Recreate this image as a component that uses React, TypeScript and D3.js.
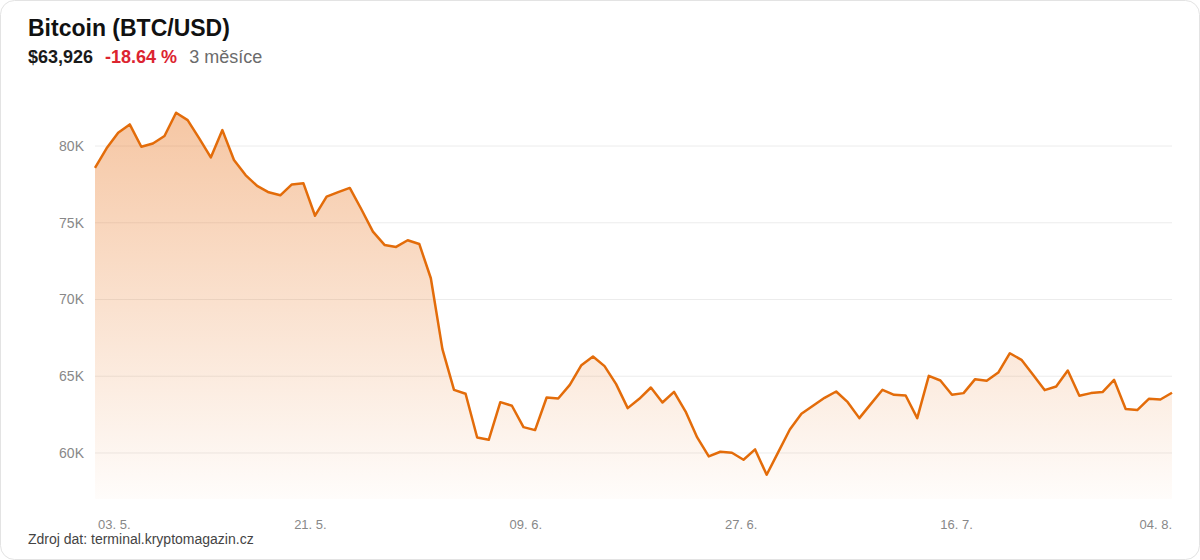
import React from "react";
import * as d3 from "d3";

const title = "Bitcoin (BTC/USD)";
const lastPrice = "$63,926";
const changeText = "-18.64 %";
const periodText = "3 měsíce";
const sourceText = "Zdroj dat: terminal.kryptomagazin.cz";

// daily close prices, 03.05 – 04.08 (94 days)
const prices: number[] = [
  78572, 79850, 80865, 81410, 79955, 80170, 80650, 82170, 81690, 80500,
  79260, 81040, 79090, 78110, 77400, 76985, 76790, 77500, 77570, 75460,
  76700, 77000, 77270, 75880, 74420, 73555, 73425, 73860, 73620, 71385,
  66765, 64115, 63855, 61010, 60860, 63310, 63075, 61685, 61490, 63615,
  63550, 64440, 65720, 66285, 65660, 64485, 62920, 63530, 64265, 63290,
  63985, 62700, 61010, 59775, 60080, 60015, 59560, 60230, 58580, 60050,
  61530, 62550, 63075, 63595, 64005, 63310, 62270, 63200, 64115, 63790,
  63745, 62270, 65025, 64720, 63790, 63900, 64810, 64700, 65240, 66500,
  66070, 65090, 64095, 64330, 65370, 63725, 63900, 63965, 64765, 62860,
  62795, 63530, 63485, 63926,
];

const xTickLabels = ["03. 5.", "21. 5.", "09. 6.", "27. 6.", "16. 7.", "04. 8."];
const yTickValues = [60000, 65000, 70000, 75000, 80000];

const W = 1200;
const H = 560;
const FONT = "'Liberation Sans', Arial, Helvetica, sans-serif";

export default function App() {
  const n = prices.length;
  const x = d3.scaleLinear().domain([0, n - 1]).range([95, 1172]);
  const y = d3.scaleLinear().domain([57000, 83000]).range([499, 100]);

  const line = d3
    .line<number>()
    .x((_, i) => x(i))
    .y((d) => y(d));
  const area = d3
    .area<number>()
    .x((_, i) => x(i))
    .y0(y(57000))
    .y1((d) => y(d));

  const tickIdx = xTickLabels.map((_, i) => (i * (n - 1)) / (xTickLabels.length - 1));

  return (
    <svg
      width={W}
      height={H}
      style={{ position: "absolute", left: 0, top: 0, fontFamily: FONT }}
    >
      <defs>
        <linearGradient id="areaGrad" gradientUnits="userSpaceOnUse" x1={0} y1={y(83000)} x2={0} y2={y(57000)}>
          <stop offset="0%" stopColor="#e8741e" stopOpacity={0.42} />
          <stop offset="100%" stopColor="#e8741e" stopOpacity={0.02} />
        </linearGradient>
      </defs>
      <rect x={0.5} y={0.5} width={W - 1} height={H - 1} rx={14} fill="#fff" stroke="#e3e3e3" />

      <text x={28} y={36} fontSize={23} fontWeight={700} fill="#111">{title}</text>
      <text y={63} fontSize={18}>
        <tspan x={28} fontWeight={700} fill="#1a1a1a">{lastPrice}</tspan>
        <tspan dx={12} fontWeight={700} fill="#dc2430">{changeText}</tspan>
        <tspan dx={12} fill="#6b6b6b">{periodText}</tspan>
      </text>

      {yTickValues.map((v) => (
        <g key={v}>
          <line x1={x(0)} x2={x(n - 1)} y1={y(v)} y2={y(v)} stroke="#ececec" strokeWidth={1} />
          <text x={84} y={y(v)} dy="0.35em" textAnchor="end" fontSize={14} fill="#888">
            {`${v / 1000}K`}
          </text>
        </g>
      ))}

      <path d={area(prices) ?? ""} fill="url(#areaGrad)" />
      <path d={line(prices) ?? ""} fill="none" stroke="#e36c0a" strokeWidth={2.5} strokeLinejoin="round" />

      {xTickLabels.map((lab, i) => (
        <text
          key={lab}
          x={x(tickIdx[i]) + (i === 0 ? 3 : 0)}
          y={529}
          fontSize={13}
          fill="#888"
          textAnchor={i === 0 ? "start" : i === xTickLabels.length - 1 ? "end" : "middle"}
        >
          {lab}
        </text>
      ))}

      <text x={28} y={544} fontSize={14} fill="#444">{sourceText}</text>
    </svg>
  );
}
